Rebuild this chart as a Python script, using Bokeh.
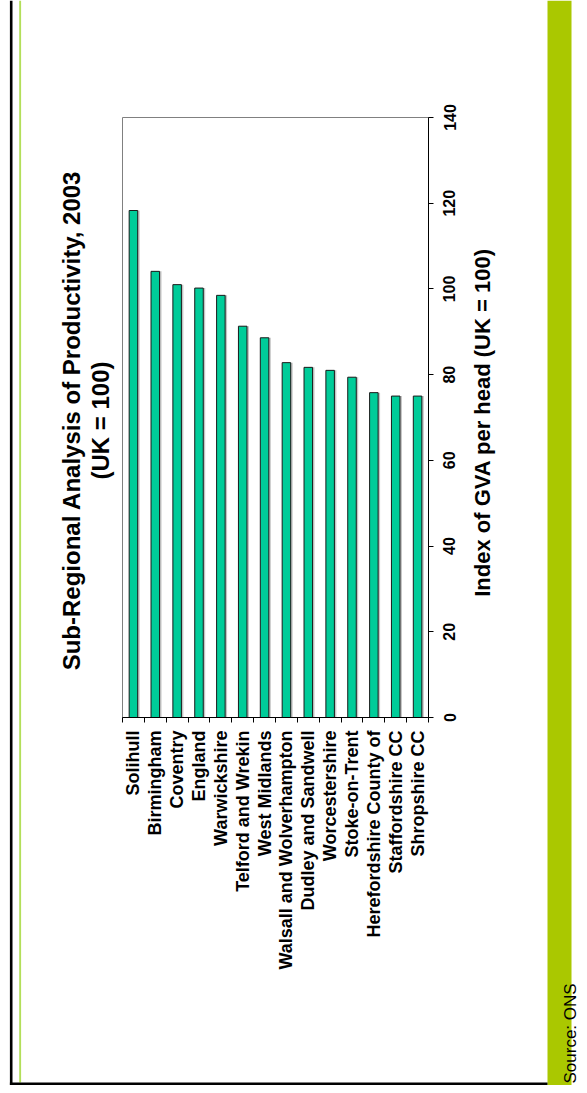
import math
from bokeh.plotting import figure
from bokeh.models import (FixedTicker, Range1d, Label, LabelSet, BoxAnnotation,
                          ColumnDataSource, LinearAxis)
from bokeh.core.properties import value
from bokeh.transform import dodge
from bokeh.embed import file_html
from bokeh.resources import INLINE

# ---- data ----
categories = ["Solihull", "Birmingham", "Coventry", "England", "Warwickshire",
              "Telford and Wrekin", "West Midlands", "Walsall and Wolverhampton",
              "Dudley and Sandwell", "Worcestershire", "Stoke-on-Trent",
              "Herefordshire County of", "Staffordshire CC", "Shropshire CC"]
values = [118.3, 104.1, 101.0, 100.2, 98.5, 91.3, 88.6, 82.8, 81.7, 81.0, 79.4, 75.8, 75.0, 75.0]
value_ticks = [0, 20, 40, 60, 80, 100, 120, 140]
title_lines = ["Sub-Regional Analysis of Productivity, 2003", "(UK = 100)"]
axis_title = "Index of GVA per head (UK = 100)"
source_note = "Source: ONS"

# ---- layout (canvas pixels) ----
FONT = "Liberation Sans"
W, H = 579, 1085
PL, PR, PT, PB = 122, 428, 117, 717   # plot area edges

n = len(categories)
vmax = value_ticks[-1]
dx = (PR - PL) / n
dy = (PB - PT) / vmax
x_range = Range1d(-PL / dx, n + (W - PR) / dx)
y_range = Range1d(-(H - PB) / dy, vmax + PT / dy)

centers = [i + 0.5 for i in range(n)]
bounds = list(range(n + 1))
src = ColumnDataSource(dict(x=centers, top=values))
tick_src = ColumnDataSource(dict(y=value_ticks, text=[str(v) for v in value_ticks]))

p = figure(width=W, height=H, output_backend="svg", toolbar_location=None,
           x_range=x_range, y_range=y_range, title=None,
           x_axis_location=None, y_axis_location=None, min_border=0)
p.xgrid.visible = False
p.ygrid.visible = False
p.outline_line_color = None
p.background_fill_color = "white"
p.border_fill_color = "white"

# slide decorations (screen units, frame == canvas)
def box(l, r, t, b, color):
    p.add_layout(BoxAnnotation(left=l, right=r, top=H - t, bottom=H - b,
                               left_units="screen", right_units="screen",
                               top_units="screen", bottom_units="screen",
                               fill_color=color, fill_alpha=1.0, line_color=None,
                               level="underlay"))

box(9.4, 12.0, 0, H, "black")          # left black border
box(18.7, 20.6, 0, H - 3, "#b3df5a")   # thin green line
box(547, 571, 0, H, "#aac800")         # green bar
box(9.4, 547, H - 3, H, "black")       # bottom black border

# plot-area box (top/left edges visible)
p.quad(left=[0], right=[n], bottom=[0], top=[vmax], fill_color=None,
       line_color="#808080", line_width=1)

# bars (with light shadow)
p.vbar(x=dodge("x", 0.09, range=p.x_range), top="top", width=0.39, source=src,
       fill_color="#c4c4c4", line_color=None)
p.vbar(x="x", top="top", width=0.39, source=src,
       fill_color="#00cc99", line_color="#1a1a1a", line_width=1)

# category axis
xa = LinearAxis(fixed_location=0, bounds=(0, n),
                ticker=FixedTicker(ticks=centers, minor_ticks=bounds))
xa.major_label_overrides = {c: name for c, name in zip(centers, categories)}
xa.major_tick_in = 0
xa.major_tick_out = 0
xa.minor_tick_in = 0
xa.minor_tick_out = 5
xa.minor_tick_line_color = "black"
xa.axis_line_color = "black"
xa.major_label_orientation = math.pi / 2
xa.major_label_standoff = 8
xa.major_label_text_font = FONT
xa.major_label_text_font_style = "bold"
xa.major_label_text_font_size = "18px"
xa.major_label_text_color = "black"
p.add_layout(xa, "below")

# value axis
ya = LinearAxis(fixed_location=n, bounds=(0, vmax), ticker=FixedTicker(ticks=value_ticks))
ya.major_tick_in = 0
ya.major_tick_out = 5
ya.minor_tick_line_color = None
ya.axis_line_color = "black"
ya.major_tick_line_color = "black"
ya.major_label_text_color = None
p.add_layout(ya, "right")

p.add_layout(LabelSet(x=n, y="y", text="text", source=tick_src, x_offset=21,
                      angle=math.pi / 2, text_align="center", text_baseline="middle",
                      text_font=value(FONT), text_font_style="bold",
                      text_font_size=value("16px"), text_color="black"))

def label(text, cx, cy, size, style="bold", align="center"):
    p.add_layout(Label(x=cx, y=H - cy, x_units="screen", y_units="screen",
                       text=text, angle=math.pi / 2, text_align=align,
                       text_baseline="middle", text_font=FONT,
                       text_font_size=size, text_font_style=style,
                       text_color="black"))

label(title_lines[0], 71, 420, "24px")
label(title_lines[1], 100, 420, "24px")
label(axis_title, 482, 422, "22px")
label(source_note, 570, 1083, "17px", style="normal", align="left")

open("out.html", "w").write(file_html(p, INLINE))
